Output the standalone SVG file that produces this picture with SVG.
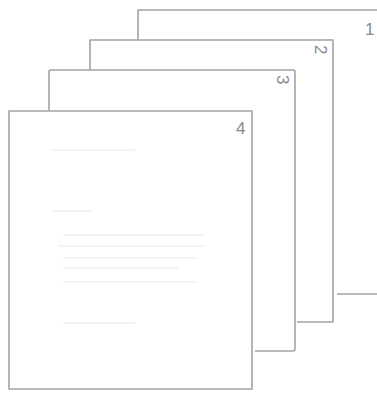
<svg xmlns="http://www.w3.org/2000/svg" width="377" height="396" viewBox="0 0 377 396">
<style>
.edge{fill:none;stroke:#a3a3a3;stroke-width:1.6;stroke-linejoin:round}
.page{fill:#fff}
.num{font-family:"Liberation Sans",Arial,sans-serif;font-size:17px;fill:#8a8a8a}
.faint{stroke:#efefef;stroke-width:1.5}
</style>
<rect width="377" height="396" fill="#fff"/>
<g id="page1">
<path class="page" d="M138 10 H380 V294 H138 Z"/>
<path class="edge" d="M138 40 V10 H380 M337 294 H380"/>
<text class="num" x="365" y="35">1</text>
</g>
<g id="page2">
<path class="page" d="M90 40 H333 V322 H90 Z"/>
<path class="edge" d="M90 70 V40 H333 V322 H297"/>
<text class="num" transform="translate(315,45) rotate(90)">2</text>
</g>
<g id="page3">
<path class="page" d="M49 70 H295 V351 H49 Z"/>
<path class="edge" d="M49 111 V72 Q49 70 51 70 H293 Q295 70 295 72 V349 Q295 351 293 351 H255"/>
<text class="num" transform="translate(277,75) rotate(90)">3</text>
</g>
<g id="page4">
<rect class="page edge" x="9" y="111" width="243" height="278"/>
<text class="num" x="236" y="134">4</text>
<g class="faint">
<line x1="53" y1="150" x2="135" y2="150"/>
<line x1="53" y1="211" x2="93" y2="211"/>
<line x1="63" y1="235" x2="205" y2="235"/>
<line x1="58" y1="246" x2="205" y2="246"/>
<line x1="63" y1="258" x2="195" y2="258"/>
<line x1="63" y1="268" x2="178" y2="268"/>
<line x1="63" y1="282" x2="195" y2="282"/>
<line x1="63" y1="323" x2="135" y2="323"/>
</g>
</g>
</svg>
